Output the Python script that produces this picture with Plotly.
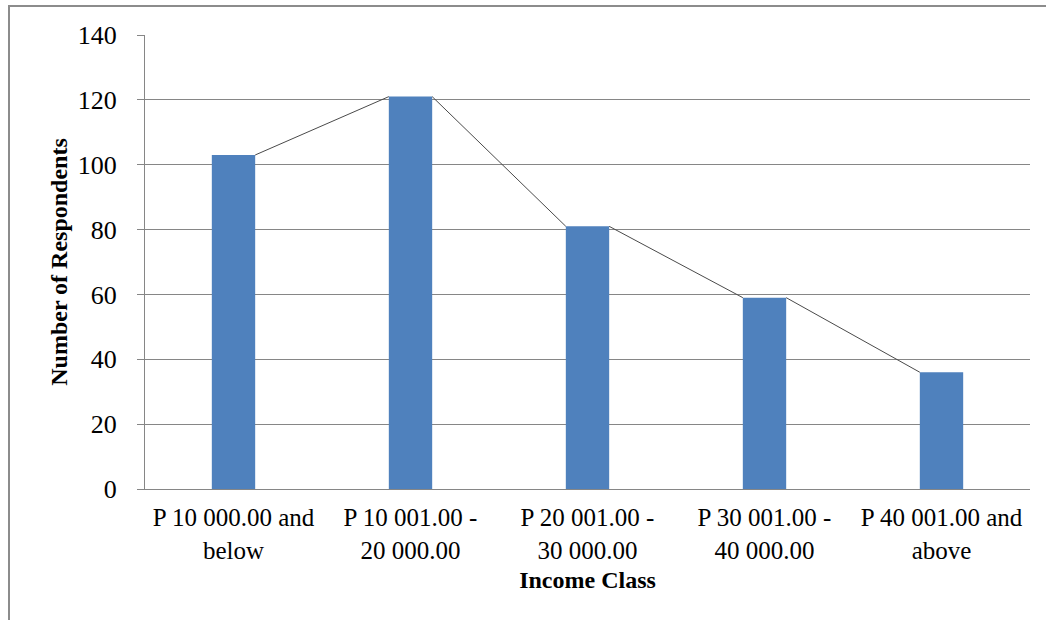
import plotly.graph_objects as go

# Income classes and respondent counts
categories = [
    "P 10 000.00 and<br>below",
    "P 10 001.00 -<br>20 000.00",
    "P 20 001.00 -<br>30 000.00",
    "P 30 001.00 -<br>40 000.00",
    "P 40 001.00 and<br>above",
]
respondents = [103, 121, 81, 59, 36]
y_ticks = [0, 20, 40, 60, 80, 100, 120, 140]

BAR_W = 0.245
positions = list(range(len(categories)))

# Series lines joining the top corners of neighbouring bars
line_x, line_y = [], []
for i in range(len(respondents) - 1):
    line_x += [positions[i] + BAR_W / 2, positions[i + 1] - BAR_W / 2, None]
    line_y += [respondents[i], respondents[i + 1], None]

fig = go.Figure()
fig.add_trace(go.Bar(
    x=positions, y=respondents, width=BAR_W,
    marker=dict(color="#4F81BD", line=dict(width=0)),
    showlegend=False,
))
fig.add_trace(go.Scatter(
    x=line_x, y=line_y, mode="lines",
    line=dict(color="#4a4a4a", width=1),
    showlegend=False, hoverinfo="skip",
))

font_family = "Liberation Serif"
W, H = 1046, 620
L, R, T, B = 145, 16, 35, 131
PW, PH = W - L - R, H - T - B

fig.update_layout(
    width=W, height=H,
    margin=dict(l=L, r=R, t=T, b=B),
    paper_bgcolor="white", plot_bgcolor="white",
    font=dict(family=font_family, size=25, color="black"),
    xaxis=dict(
        range=[-0.5, len(categories) - 0.5],
        tickvals=positions, ticktext=categories,
        showgrid=False, zeroline=False,
        showline=True, linecolor="#868686", linewidth=1,
        ticks="", tickfont=dict(size=25), ticklabelstandoff=6,
        title=dict(text="<b>Income Class</b>", font=dict(size=24), standoff=8),
    ),
    yaxis=dict(
        range=[0, 140], tickvals=y_ticks,
        showgrid=True, gridcolor="#868686", gridwidth=1,
        zeroline=False,
        showline=True, linecolor="#868686", linewidth=1,
        ticks="outside", ticklen=7, tickcolor="#868686",
        ticklabelstandoff=15, tickfont=dict(size=26),
        title=dict(text="<b>Number of Respondents</b>", font=dict(size=24), standoff=3),
    ),
    shapes=[
        # outer chart frame
        dict(type="rect", xref="paper", yref="paper",
             x0=(9 - L) / PW, x1=(W + 20 - L) / PW,
             y0=-(B + 20) / PH,
             y1=(H - 6 - B) / PH,
             line=dict(color="#8c8c8c", width=2), layer="below"),
    ],
)

fig.write_html("out.html")
